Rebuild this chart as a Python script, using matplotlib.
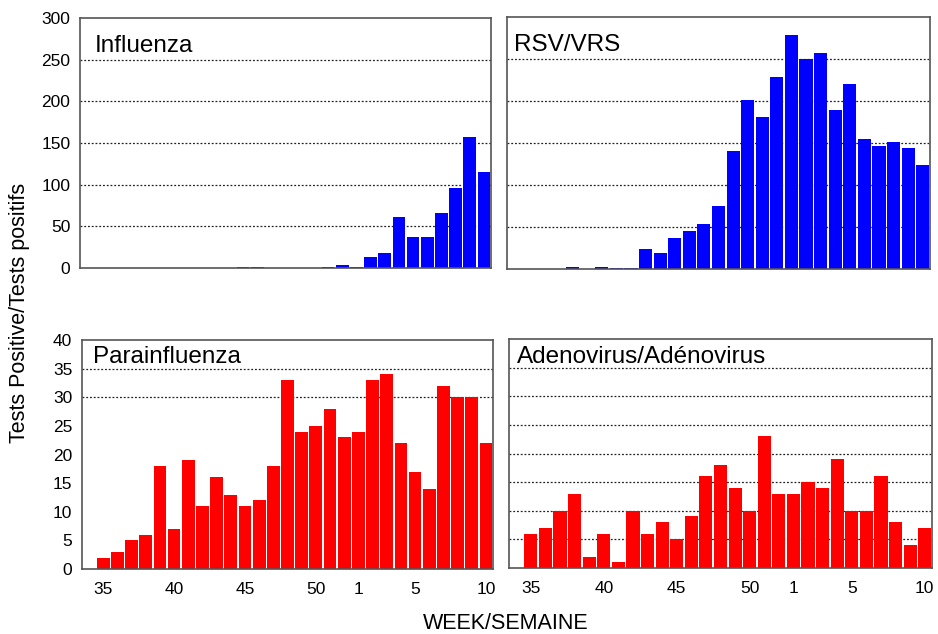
import matplotlib
matplotlib.use('Agg')
import matplotlib.pyplot as plt

plt.rcParams['font.family'] = ['Liberation Sans', 'DejaVu Sans']

weeks = list(range(35, 53)) + list(range(1, 11))
tick_weeks = [35, 40, 45, 50, 1, 5, 10]

influenza = [0, 0, 0, 0, 0, 0, 0, 0, 0, 0, 1, 1, 0, 0, 0, 0, 1, 3,
             1, 13, 18, 61, 37, 37, 66, 96, 157, 115]
rsv = [0, 0, 0, 2, 0, 2, 1, 1, 24, 19, 37, 45, 53, 75, 140, 201, 181, 228,
       278, 250, 257, 189, 220, 155, 146, 151, 144, 124]
parainfluenza = [2, 3, 5, 6, 18, 7, 19, 11, 16, 13, 11, 12, 18, 33, 24, 25, 28, 23,
                 24, 33, 34, 22, 17, 14, 32, 30, 30, 22]
adenovirus = [6, 7, 10, 13, 2, 6, 1, 10, 6, 8, 5, 9, 16, 18, 14, 10, 23, 13,
              13, 15, 14, 19, 10, 10, 16, 8, 4, 7]

BLUE = '#0000ff'
RED = '#ff0000'


def draw_panel(ax, values, color, title, ymax, ystep, grid_vals, show_y, show_x, tx, ty, fs):
    pos = list(range(1, len(values) + 1))
    for g in grid_vals:
        ax.axhline(g, color='#222222', linestyle=(0, (1.5, 1.5)), lw=0.9, zorder=1)
    ax.bar(pos, values, width=0.9, color=color, edgecolor='none', zorder=2)
    ax.set_xlim(-0.5, 28.5)
    ax.set_ylim(0, ymax)
    ax.set_yticks(range(0, ymax + 1, ystep))
    ax.set_xticks([pos[weeks.index(w)] for w in tick_weeks])
    ax.set_xticklabels([str(w) for w in tick_weeks])
    ax.tick_params(axis='y', length=0, pad=7, labelsize=12.5, labelleft=show_y)
    ax.tick_params(axis='x', length=0, pad=9, labelsize=12.5, labelbottom=show_x)
    for s in ax.spines.values():
        s.set_color('#555555')
        s.set_linewidth(1.2)
    ax.text(tx, ty, title, transform=ax.transAxes, fontsize=fs,
            ha='left', va='baseline', zorder=3)


fig = plt.figure(figsize=(9.38, 6.34), dpi=100)
ax1 = fig.add_axes([0.0853, 0.5773, 0.4382, 0.3943])
ax2 = fig.add_axes([0.5405, 0.5757, 0.4510, 0.3975])
ax3 = fig.add_axes([0.0874, 0.1025, 0.4382, 0.3612])
ax4 = fig.add_axes([0.5426, 0.1041, 0.4510, 0.3612])

draw_panel(ax1, influenza, BLUE, 'Influenza', 300, 50, [50, 100, 150, 200, 250],
           True, False, 0.036, 0.865, 17.5)
draw_panel(ax2, rsv, BLUE, 'RSV/VRS', 300, 50, [50, 100, 150, 200, 250],
           False, False, 0.017, 0.865, 17.5)
draw_panel(ax3, parainfluenza, RED, 'Parainfluenza', 40, 5, [30, 35],
           True, True, 0.0275, 0.901, 17.5)
draw_panel(ax4, adenovirus, RED, 'Adenovirus/Adénovirus', 40, 5, [5, 10, 15, 20, 25, 30, 35],
           False, True, 0.018, 0.897, 17.5)

fig.text(0.021, 0.506, 'Tests Positive/Tests positifs', rotation=90,
         ha='center', va='center', fontsize=15.5)
fig.text(0.539, 0.0158, 'WEEK/SEMAINE', ha='center', va='center', fontsize=15.5)

fig.savefig('out.png', dpi=100)
plt.close(fig)
